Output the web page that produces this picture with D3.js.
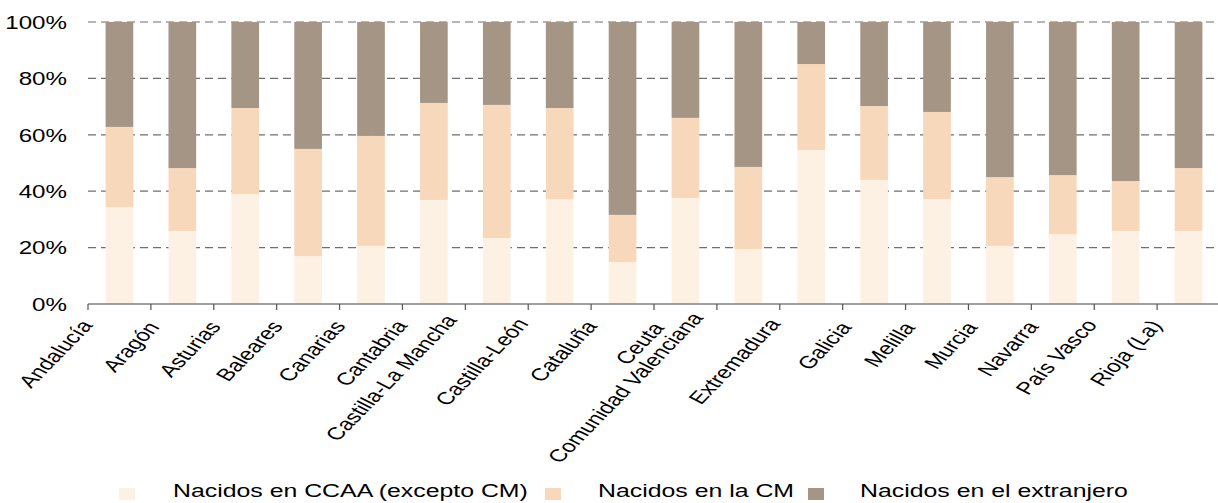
<!DOCTYPE html>
<html>
<head>
<meta charset="utf-8">
<script src="https://cdn.jsdelivr.net/npm/d3@7"></script>
<style>
  body { margin: 0; background: #fff; }
  text { font-family: "Liberation Sans", Arial, sans-serif; fill: #000; }
</style>
</head>
<body>
<div id="chart"></div>
<script>
const regions = ["Andalucía","Aragón","Asturias","Baleares","Canarias","Cantabria","Castilla-La Mancha",
  "Castilla-León","Cataluña","Ceuta","Comunidad Valenciana","Extremadura","Galicia","Melilla","Murcia",
  "Navarra","País Vasco","Rioja (La)"]
// % of population
const ccaa       = [34.4,25.9,39.0,17.0,20.6,36.9,23.4,37.2,14.9,37.6,19.5,54.6,44.0,37.2,20.6,24.8,25.9,25.9]
const cm         = [28.4,22.3,30.5,38.0,39.0,34.4,47.2,32.3,16.7,28.4,29.1,30.5,26.2,30.9,24.4,20.9,17.7,22.3]
const extranjero = [37.2,51.8,30.5,45.0,40.4,28.7,29.4,30.5,68.4,34.0,51.4,14.9,29.8,31.9,55.0,54.3,56.4,51.8]
const seriesNames = ["Nacidos en CCAA (excepto CM)","Nacidos en la CM","Nacidos en el extranjero"]
const yTicks = [0,20,40,60,80,100]

const colors = ["#fcf1e3","#f8d8bb","#a59584"]
const W = 1218, H = 503
const SX = 1.38   // the original picture is stretched sideways

const data = regions.map((r,i) => ({region:r, s0:ccaa[i], s1:cm[i], s2:extranjero[i]}))
const stack = d3.stack().keys(["s0","s1","s2"])(data)

const x = d3.scaleBand().domain(regions).range([88,1220]).paddingInner(0.56).paddingOuter(0.28)
const y = d3.scaleLinear().domain([0,100]).range([304,22])

const svg = d3.select("#chart").append("svg").attr("width",W).attr("height",H)

// grid
svg.append("g").selectAll("line").data(yTicks.filter(d=>d>0)).enter().append("line")
  .attr("x1",88).attr("x2",W).attr("y1",d=>y(d)).attr("y2",d=>y(d))
  .attr("stroke","#6f6f6f").attr("stroke-width",1.2).attr("stroke-dasharray","8,5")

// bars
svg.append("g").selectAll("g").data(stack).enter().append("g")
  .attr("fill",(d,i)=>colors[i])
  .selectAll("rect").data(d=>d).enter().append("rect")
  .attr("x",d=>x(d.data.region))
  .attr("width",x.bandwidth())
  .attr("y",d=>y(d[1]))
  .attr("height",d=>y(d[0])-y(d[1]))

// y axis
const yAxis = d3.axisLeft(y).tickValues(yTicks).tickFormat(d=>d+"%").tickSize(0)
let yGroup = svg.append("g").attr("transform","translate(88,0)").call(yAxis)
yGroup.select(".domain").remove()
yGroup.selectAll("text")
  .attr("x",null).attr("dy",null)
  .attr("dominant-baseline","central")
  .attr("text-anchor","end")
  .attr("font-size",17.5)
  .attr("transform",`translate(-21,0) scale(${SX},1)`)

// x axis
const step = x.step()
const xAxis = d3.axisBottom(x).tickSize(0).tickSizeOuter(0)
let xGroup = svg.append("g").attr("transform","translate(0,304)").call(xAxis)
xGroup.select(".domain").attr("stroke","#808080").attr("stroke-width",1.6)
  .attr("d",`M88,0H1220`)
xGroup.selectAll("text")
  .attr("y",null).attr("dy",null)
  .attr("text-anchor","end")
  .attr("font-size",17.5)
  .attr("transform",function(){
    // longer labels sit further up-left, like in the original
    let L = this.getComputedTextLength()
    let tx = -12 - 0.18*L, ty = 27.5 - 0.075*L
    return `translate(${tx},${ty}) scale(${SX},1) rotate(-54.5)`
  })
xGroup.selectAll(".bound").data(d3.range(regions.length+1)).enter().append("line")
  .attr("x1",i=>88+i*step).attr("x2",i=>88+i*step)
  .attr("y1",0).attr("y2",6)
  .attr("stroke","#555").attr("stroke-width",1.2)

// legend
const legX = [119,545,808]
const legT = [173,598,860]
let legend = svg.append("g")
seriesNames.forEach((n,i)=>{
  legend.append("rect").attr("x",legX[i]).attr("y",488).attr("width",16).attr("height",12).attr("fill",colors[i])
  legend.append("text").attr("font-size",17.5)
    .attr("transform",`translate(${legT[i]},497) scale(1.42,1)`)
    .text(n)
})
</script>
</body>
</html>
